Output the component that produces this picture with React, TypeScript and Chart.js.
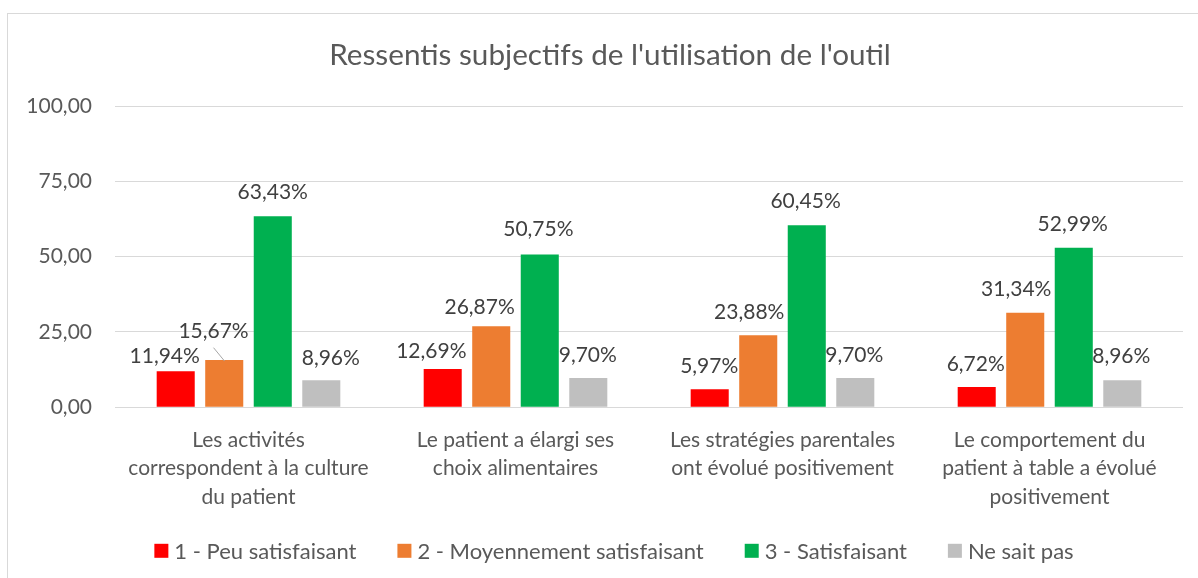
import { useEffect, useRef } from 'react';
import { Chart, registerables } from 'chart.js';

Chart.register(...registerables);

const FONT = 'Lato';

const titleText = "Ressentis subjectifs de l'utilisation de l'outil";

const categories: string[][] = [
  ['Les activités', 'correspondent à la culture', 'du patient'],
  ['Le patient a élargi ses', 'choix alimentaires'],
  ['Les stratégies parentales', 'ont évolué positivement'],
  ['Le comportement du', 'patient à table a évolué', 'positivement'],
];

const seriesNames = [
  '1 - Peu satisfaisant',
  '2 - Moyennement satisfaisant',
  '3 - Satisfaisant',
  'Ne sait pas',
];

const peuSatisfaisant = [11.94, 12.69, 5.97, 6.72];
const moyennementSatisfaisant = [15.67, 26.87, 23.88, 31.34];
const satisfaisant = [63.43, 50.75, 60.45, 52.99];
const neSaitPas = [8.96, 9.7, 9.7, 8.96];

const yMin = 0;
const yMax = 100;
const yStep = 25;

const seriesColors = ['#FF0000', '#ED7D31', '#00B050', '#BFBFBF'];

// label placement tweaks (style only): [dx, dy-above-bar-top] per series per category
const labelOffsets: number[][][] = [
  [[-11, 16], [-11.4, 18.7], [-0.5, 24.3], [-1, 23.3]],
  [[-10.7, 29.6], [-11.6, 20.3], [-9, 24.2], [-9, 24]],
  [[0, 24.7], [-1.4, 26], [-1.2, 24.6], [-1, 24]],
  [[9.5, 23], [-0.5, 23.5], [-1, 24], [-1, 25]],
];
const leaderLines: [number, number][] = [[1, 0]];

const fmtNum = (v: number) => v.toFixed(2).replace('.', ',');

const TEXT = '#595959';
const LABEL = '#404040';
const LABEL_SIZE = 21;
const TICK_SIZE = 21;
const TITLE_SIZE = 29.7;
const LEGEND_SIZE = 22;

const overlayPlugin = {
  id: 'overlay',
  afterDatasetsDraw(chart: any) {
    const ctx: CanvasRenderingContext2D = chart.ctx;
    ctx.save();
    ctx.font = `${LABEL_SIZE}px ${FONT}`;
    ctx.fillStyle = LABEL;
    ctx.textAlign = 'center';
    ctx.textBaseline = 'alphabetic';
    const cap = LABEL_SIZE * 0.716;
    chart.data.datasets.forEach((ds: any, di: number) => {
      const meta = chart.getDatasetMeta(di);
      meta.data.forEach((bar: any, i: number) => {
        const v = ds.data[i] as number;
        const [dx, dy] = labelOffsets[di][i];
        const x = bar.x + dx;
        const cy = bar.y - dy;
        ctx.fillText(fmtNum(v) + '%', x, cy + cap / 2);
        if (leaderLines.some(([a, b]) => a === di && b === i)) {
          ctx.save();
          ctx.strokeStyle = '#A6A6A6';
          ctx.lineWidth = 1;
          ctx.beginPath();
          ctx.moveTo(x, cy + 17.2);
          ctx.lineTo(bar.x + 0.3, bar.y + 1);
          ctx.stroke();
          ctx.restore();
        }
      });
    });
    ctx.restore();
  },
  afterDraw(chart: any) {
    const ctx: CanvasRenderingContext2D = chart.ctx;
    ctx.save();
    // title
    ctx.font = `${TITLE_SIZE}px ${FONT}`;
    ctx.fillStyle = TEXT;
    ctx.textAlign = 'center';
    ctx.textBaseline = 'alphabetic';
    ctx.fillText(titleText, 602, 51);
    // legend
    ctx.font = `${LEGEND_SIZE}px ${FONT}`;
    const box = 14;
    const gapText = 6;
    const gapItem = 41;
    const widths = chart.data.datasets.map((d: any) => ctx.measureText(d.label).width);
    const total =
      widths.reduce((a: number, b: number) => a + b, 0) +
      widths.length * (box + gapText) +
      (widths.length - 1) * gapItem;
    let x = 606 - total / 2;
    const cy = 536.8;
    ctx.textAlign = 'left';
    chart.data.datasets.forEach((d: any, i: number) => {
      ctx.fillStyle = d.backgroundColor;
      ctx.fillRect(x, cy - box / 2, box, box);
      x += box + gapText;
      ctx.fillStyle = TEXT;
      ctx.fillText(d.label, x, cy + (LEGEND_SIZE * 0.716) / 2);
      x += widths[i] + gapItem;
    });
    ctx.restore();
  },
};

export default function App() {
  const ref = useRef<HTMLCanvasElement>(null);
  useEffect(() => {
    const series = [peuSatisfaisant, moyennementSatisfaisant, satisfaisant, neSaitPas];
    const chart = new Chart(ref.current!, {
      type: 'bar',
      data: {
        labels: categories,
        datasets: series.map((d, i) => ({
          label: seriesNames[i],
          data: d,
          backgroundColor: seriesColors[i],
          borderWidth: 0,
          categoryPercentage: 0.727,
          barPercentage: 0.784,
        })),
      },
      options: {
        animation: false,
        responsive: false,
        devicePixelRatio: 1,
        layout: { padding: { top: 92, right: 29, bottom: 52.7, left: 0 } },
        plugins: {
          legend: { display: false },
          title: { display: false },
          tooltip: { enabled: false },
        },
        scales: {
          x: {
            grid: { display: false, drawTicks: false },
            border: { display: false },
            ticks: {
              color: TEXT,
              padding: 18.3,
              maxRotation: 0,
              autoSkip: false,
              font: { family: FONT, size: TICK_SIZE, lineHeight: 1.367 },
            },
            afterFit: (s: any) => {
              s.height = 120;
            },
          },
          y: {
            min: yMin,
            max: yMax,
            grid: { color: '#D9D9D9', lineWidth: 1, drawTicks: false, tickLength: 0 },
            border: { display: false },
            ticks: {
              stepSize: yStep,
              color: TEXT,
              padding: 23,
              font: { family: FONT, size: TICK_SIZE },
              callback: (v: any) => fmtNum(Number(v)),
            },
            afterFit: (s: any) => {
              s.width = 107;
            },
          },
        },
      },
      plugins: [overlayPlugin],
    });
    return () => chart.destroy();
  }, []);
  return (
    <div
      style={{
        position: 'fixed',
        left: 0,
        top: 0,
        width: 1198,
        height: 578,
        overflow: 'hidden',
        background: '#fff',
      }}
    >
      <div
        style={{
          position: 'absolute',
          left: 7,
          top: 13,
          width: 1206,
          height: 600,
          border: '1px solid #D9D9D9',
        }}
      >
        <canvas
          ref={ref}
          width={1204}
          height={566}
          style={{ display: 'block', width: 1204, height: 566 }}
        />
      </div>
    </div>
  );
}
